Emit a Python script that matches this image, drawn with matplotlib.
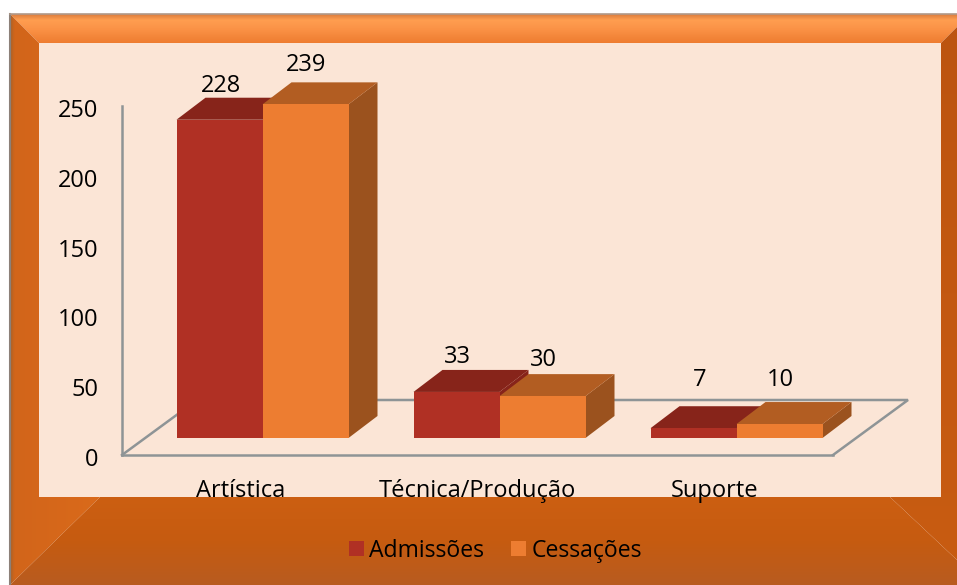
import numpy as np
import matplotlib
matplotlib.use('Agg')
import matplotlib.pyplot as plt
from matplotlib.patches import Polygon, Rectangle
from matplotlib.transforms import ScaledTranslation

categories = ['Artística', 'Técnica/Produção', 'Suporte']
admissoes = [228, 33, 7]
cessacoes = [239, 30, 10]
yticks = [0, 50, 100, 150, 200, 250]

W, H = 957, 585
plt.rcParams['font.family'] = ['Open Sans', 'DejaVu Sans']

fig = plt.figure(figsize=(W / 100, H / 100), dpi=100, facecolor='white')

# frame, in pixel coordinates
bg = fig.add_axes([0, 0, 1, 1], zorder=0)
bg.set_xlim(0, W)
bg.set_ylim(H, 0)
bg.axis('off')


def band(pts, colors, extent, vertical=True):
    cmap = matplotlib.colors.LinearSegmentedColormap.from_list('b', colors)
    g = np.linspace(0, 1, 256).reshape(-1, 1) if vertical else np.linspace(0, 1, 256).reshape(1, -1)
    im = bg.imshow(g, cmap=cmap, extent=extent, aspect='auto', zorder=1)
    im.set_clip_path(Polygon(pts, closed=True, transform=bg.transData))


band([(10, 14), (957, 14), (957, 27), (941, 43), (39, 43)],
     [(0, '#D97A3C'), (0.2, '#FF9E50'), (0.5, '#FB9347'), (1, '#EE7C30')], [10, 957, 43, 14])
band([(10, 14), (39, 43), (39, 497), (100, 497), (10, 585)],
     [(0, '#A8622A'), (0.05, '#D2651A'), (1, '#DA6A1B')], [10, 100, 585, 14], vertical=False)
band([(10, 585), (100, 497), (890, 497), (957, 560), (957, 585)],
     ['#CC5F12', '#C65B10', '#B85C20'], [10, 957, 585, 497])
band([(957, 27), (941, 43), (941, 497), (890, 497), (957, 560)],
     ['#BC5410', '#C35811', '#C85C12'], [890, 957, 560, 27])
bg.plot([10, 10], [14, 585], color='#8C8078', lw=1.5, zorder=2)
bg.plot([10, 957], [14, 14], color='#B09A8A', lw=1.2, zorder=2)
bg.add_patch(Rectangle((39, 43), 902, 454, fc='#FBE5D6', ec='none', zorder=3))

# plot area: left spine is the value axis, bottom spine the front of the floor
ax_left, ax_right, ax_top, ax_bottom = 122, 833, 106, 455
ax = fig.add_axes([ax_left / W, 1 - ax_bottom / H, (ax_right - ax_left) / W, (ax_bottom - ax_top) / H], zorder=1)
ax.patch.set_visible(False)
ax.set_xlim(-0.5, 2.5)
ax.set_ylim(0, 250)
xpx = (ax_right - ax_left) / 3
ypx = (ax_bottom - ax_top) / 250

grey = '#8E9496'
for s in ['top', 'right']:
    ax.spines[s].set_visible(False)
for s in ['left', 'bottom']:
    ax.spines[s].set_color(grey)
    ax.spines[s].set_linewidth(1.8)
ax.set_xticks(range(3), categories)
ax.set_yticks(yticks)
ax.tick_params(axis='both', length=0, labelsize=17, colors='black')
ax.tick_params(axis='y', pad=17)
ax.tick_params(axis='x', pad=17)
for lab in ax.get_yticklabels():
    lab.set_transform(lab.get_transform() + ScaledTranslation(0, -2 / 100, fig.dpi_scale_trans))

# floor side and back edges
fx, fy = 75 / xpx, 55 / ypx
ax.plot([-0.5, -0.5 + fx, 2.5 + fx, 2.5], [0, fy, fy, 0], color=grey, lw=1.8,
        clip_on=False, zorder=1, solid_joinstyle='miter')

# bars sit inset on the floor, their depth drawn as polygons
ox, oy = 22 / xpx, 17 / ypx
dx, dy = 29 / xpx, 22 / ypx
bw = 86 / xpx
series = [(admissoes, -bw / 2, '#B03024', '#87241A', '#87241A', 'Admissões'),
          (cessacoes, bw / 2, '#ED7D31', '#B25D22', '#9B521E', 'Cessações')]
for vals, shift, front, top, side, name in series:
    for i, v in enumerate(vals):
        x0 = i + ox + shift - bw / 2
        x1 = x0 + bw
        y0, y1 = oy, oy + v
        ax.add_patch(Polygon([(x1, y0), (x1 + dx, y0 + dy), (x1 + dx, y1 + dy), (x1, y1)],
                             fc=side, ec='none', zorder=2, clip_on=False))
        ax.add_patch(Polygon([(x0, y1), (x0 + dx, y1 + dy), (x1 + dx, y1 + dy), (x1, y1)],
                             fc=top, ec='none', zorder=2, clip_on=False))
    ax.bar(np.arange(3) + ox + shift, vals, bw, bottom=oy, color=front, zorder=3, clip_on=False, label=name)

# data labels: pixel offset above the front top of each bar
label_off = {'a': [(1, 34), (1, 35), (6, 48)], 'c': [(1, 39), (1, 36), (1, 44)]}
for vals, shift, key in [(admissoes, -bw / 2, 'a'), (cessacoes, bw / 2, 'c')]:
    for i, v in enumerate(vals):
        ax.annotate(str(v), (i + ox + shift, oy + v), xytext=label_off[key][i],
                    textcoords='offset pixels', ha='center', va='center',
                    fontsize=17, zorder=5, annotation_clip=False)

leg = fig.legend(loc='center', bbox_to_anchor=(495.5 / W, 1 - 551 / H), ncol=2, frameon=False,
                 fontsize=16.6, handlelength=0.63, handleheight=0.63, handletextpad=0.25,
                 columnspacing=1.15, borderpad=0)

fig.savefig('out.png', dpi=100)
